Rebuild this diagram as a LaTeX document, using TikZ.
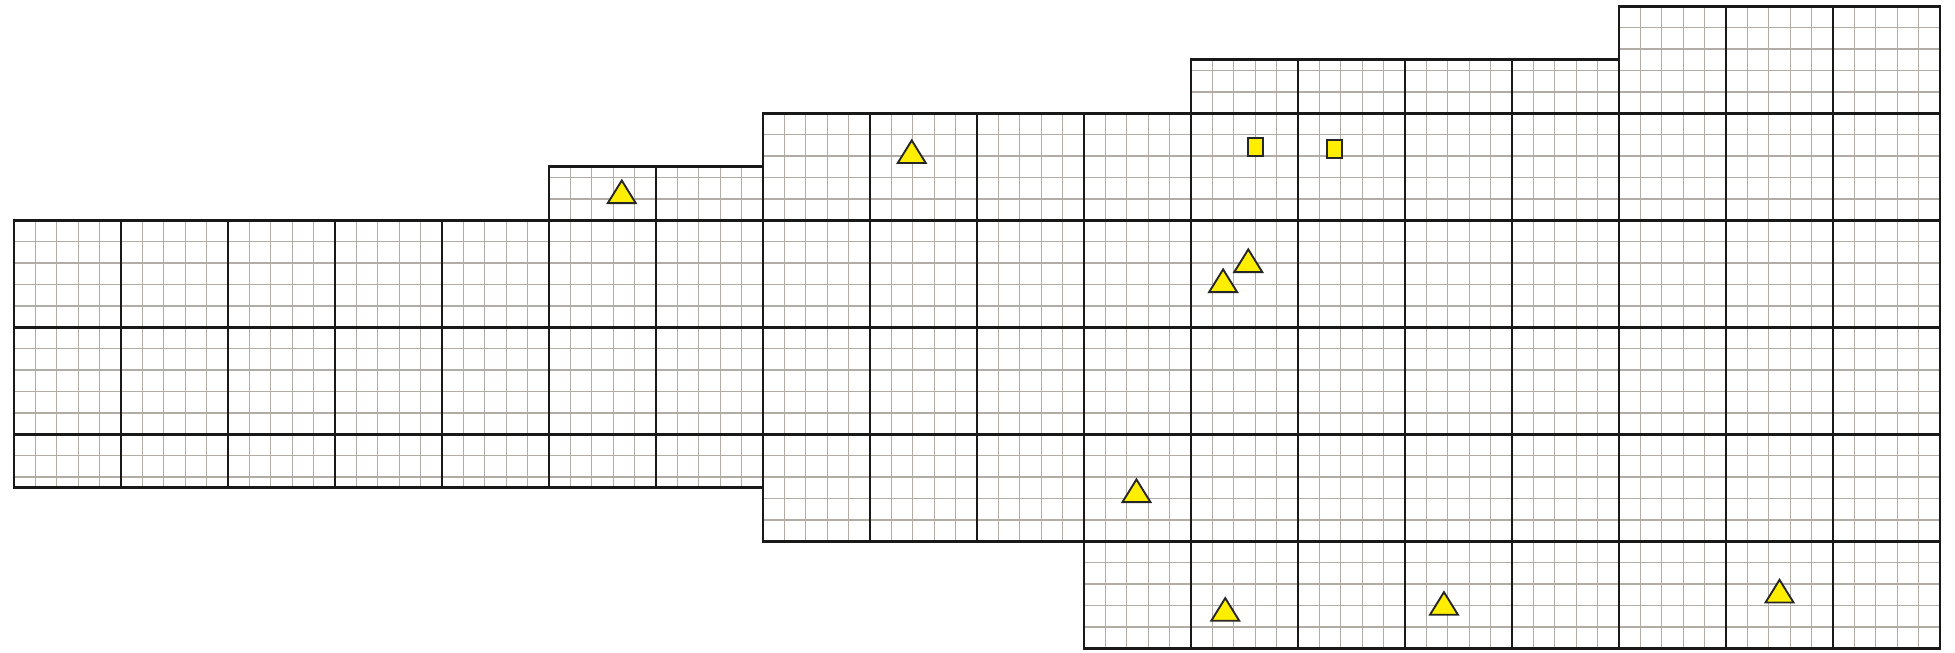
\documentclass[tikz,border=0pt]{standalone}
\definecolor{gridgray}{RGB}{178,172,166}
\definecolor{mkyellow}{RGB}{255,238,0}
\begin{document}
\begin{tikzpicture}[x=1cm,y=1cm,
		minor/.style={draw=gridgray,line width=0.35pt},
		major/.style={draw=black!90,line width=0.7pt},
		marker/.style={draw=black!85,fill=mkyellow,line width=0.5pt,line join=miter}]
	\useasboundingbox (-0.131,-0.035) rectangle (18.14,6.059);
	% outline of the mapped area
	\def\area{(0,1.5) -- (7,1.5) -- (7,1) -- (10,1) -- (10,0) -- (18,0) -- (18,6) -- (15,6) -- (15,5.5) -- (11,5.5) -- (11,5) -- (7,5) -- (7,4.5) -- (5,4.5) -- (5,4) -- (0,4) -- cycle}
	\begin{scope}
		\clip \area;
		\draw[minor] (0,0) grid[step=0.2] (18,6);
		\draw[major] (0,0) grid[step=1] (18,6);
	\end{scope}
	\draw[major] \area;
	% finds
	\foreach \x/\y in {5.68/4.16, 8.39/4.535, 11.535/3.516, 11.30/3.329, 10.49/1.366, 11.32/0.257, 13.364/0.313, 16.50/0.428}
		\draw[marker] (\x-0.131,\y) -- (\x+0.131,\y) -- (\x,\y+0.212) -- cycle;
	\foreach \x/\y in {11.60/4.685, 12.34/4.668}
		\draw[marker] (\x-0.071,\y-0.083) rectangle (\x+0.071,\y+0.083);
\end{tikzpicture}
\end{document}
